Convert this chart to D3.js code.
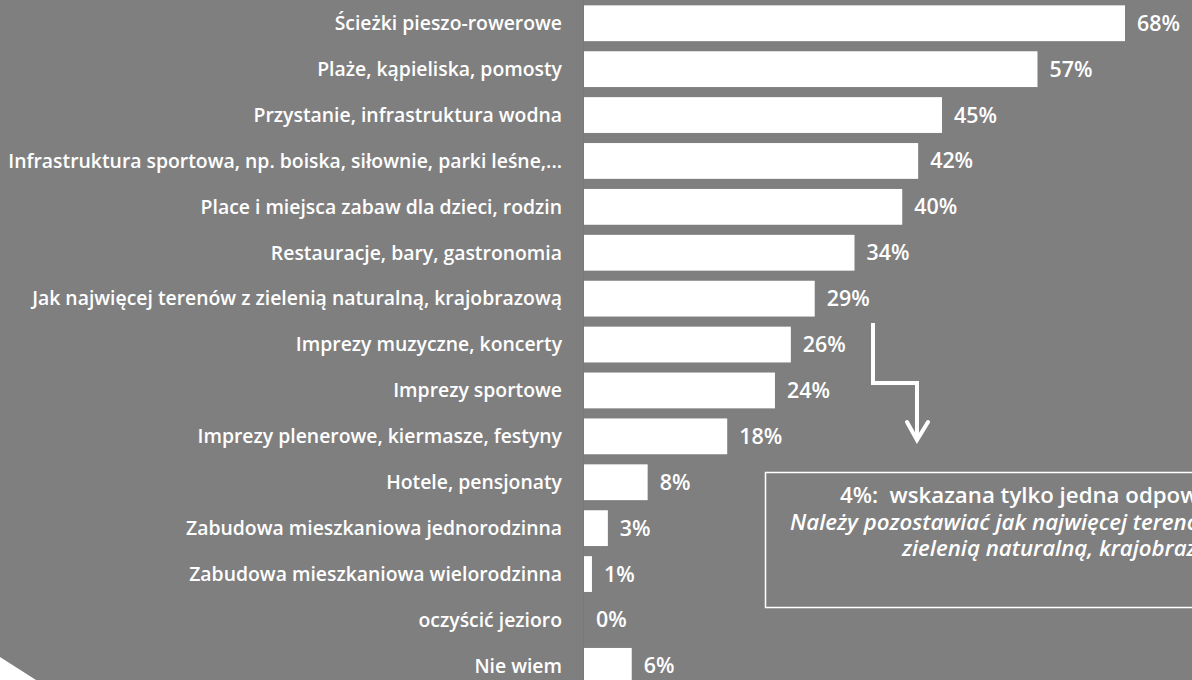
<!DOCTYPE html>
<html><head><meta charset="utf-8">
<script src="https://cdn.jsdelivr.net/npm/d3@7"></script>
<style>
html,body{margin:0;padding:0;background:#7f7f7f;overflow:hidden;}
svg{display:block;}
</style></head>
<body>
<svg id="chart" width="1192" height="680"></svg>
<script>
const categories = [
  "Ścieżki pieszo-rowerowe",
  "Plaże, kąpieliska, pomosty",
  "Przystanie, infrastruktura wodna",
  "Infrastruktura sportowa, np. boiska, siłownie, parki leśne,...",
  "Place i miejsca zabaw dla dzieci, rodzin",
  "Restauracje, bary, gastronomia",
  "Jak najwięcej terenów z zielenią naturalną, krajobrazową",
  "Imprezy muzyczne, koncerty",
  "Imprezy sportowe",
  "Imprezy plenerowe, kiermasze, festyny",
  "Hotele, pensjonaty",
  "Zabudowa mieszkaniowa jednorodzinna",
  "Zabudowa mieszkaniowa wielorodzinna",
  "oczyścić jezioro",
  "Nie wiem"
];
const values = [68, 57, 45, 42, 40, 34, 29, 26, 24, 18, 8, 3, 1, 0, 6];
const noteLines = [
  "4%:  wskazana tylko jedna odpowiedź:",
  "Należy pozostawiać jak najwięcej terenów z",
  "zielenią naturalną, krajobrazową"
];

const svg = d3.select("#chart");
const W = 1192, H = 680;
const FONT = "'Open Sans', 'Noto Sans', sans-serif";

svg.append("rect").attr("width", W).attr("height", H).attr("fill", "#7f7f7f");

// bottom-left decorative white corner
svg.append("path").attr("d", "M0,657 L36,680 L0,680 Z").attr("fill", "#ffffff");

const x0 = 584;
const x = d3.scaleLinear().domain([0, 68]).range([x0, 1125]);
const y = d3.scaleBand().domain(categories).range([0.3, 0.3 + 15 * 45.9])
  .paddingInner(0.22).paddingOuter(0.11);

function measure(txt, weight, style, size) {
  const t = svg.append("text").attr("font-family", FONT).attr("font-weight", weight)
    .attr("font-style", style).attr("font-size", size).style("white-space", "pre").text(txt);
  const w = t.node().getComputedTextLength();
  t.remove();
  return w;
}
// font size that makes a text reach a target width
function fitSize(txt, weight, style, target) {
  return 20 * target / measure(txt, weight, style, 20);
}
const labelSize = fitSize(categories[3], 600, "normal", 554);
const valueSize = fitSize("68%", 600, "normal", 43);
const noteSize = fitSize("Należy pozostawiać jak najwięcej terenzielenią naturalną, krajobraz", 600, "italic", 692);

// faint axis line
svg.append("line").attr("x1", x0 - 0.5).attr("x2", x0 - 0.5)
  .attr("y1", 0).attr("y2", H).attr("stroke", "#787878").attr("stroke-width", 1);

svg.append("g").selectAll("rect").data(categories).join("rect")
  .attr("x", x0)
  .attr("y", d => y(d))
  .attr("width", (d, i) => x(values[i]) - x0)
  .attr("height", y.bandwidth())
  .attr("fill", "#ffffff");

svg.append("g").selectAll("text").data(categories).join("text")
  .attr("x", x0 - 22)
  .attr("y", d => y(d) + y.bandwidth() / 2)
  .attr("dy", "0.35em")
  .attr("text-anchor", "end")
  .attr("fill", "#ffffff")
  .attr("font-family", FONT)
  .attr("font-weight", 600)
  .attr("font-size", labelSize)
  .text(d => d);

svg.append("g").selectAll("text").data(categories).join("text")
  .attr("x", (d, i) => x(values[i]) + 12)
  .attr("y", d => y(d) + y.bandwidth() / 2)
  .attr("dy", "0.35em")
  .attr("fill", "#ffffff")
  .attr("font-family", FONT)
  .attr("font-weight", 600)
  .attr("font-size", valueSize)
  .text((d, i) => values[i] + "%");

// arrow
svg.append("path")
  .attr("d", "M873,323 L873,383 L917,383 L917,438")
  .attr("fill", "none").attr("stroke", "#ffffff").attr("stroke-width", 4)
  .attr("stroke-linejoin", "miter");
svg.append("path")
  .attr("d", "M907,422 L917,440 L928,422")
  .attr("fill", "none").attr("stroke", "#ffffff").attr("stroke-width", 4)
  .attr("stroke-linecap", "round").attr("stroke-linejoin", "miter");

// note box (extends past the right edge, as in the original)
svg.append("rect").attr("x", 765.5).attr("y", 472.5).attr("width", 700).attr("height", 135)
  .attr("fill", "none").attr("stroke", "#ffffff").attr("stroke-width", 1.5);

// note text: line starts as in the original (text runs past the right edge there too)
const noteX = [840, 790, 902];
const noteY = [495, 522, 548];
svg.append("g").selectAll("text").data(noteLines).join("text")
  .attr("x", (d, i) => noteX[i])
  .attr("y", (d, i) => noteY[i])
  .attr("dy", "0.35em")
  .attr("fill", "#ffffff")
  .attr("font-family", FONT)
  .attr("font-size", noteSize)
  .attr("font-weight", 600)
  .attr("font-style", (d, i) => i === 0 ? "normal" : "italic")
  .style("white-space", "pre")
  .text(d => d);
</script>
</body></html>
